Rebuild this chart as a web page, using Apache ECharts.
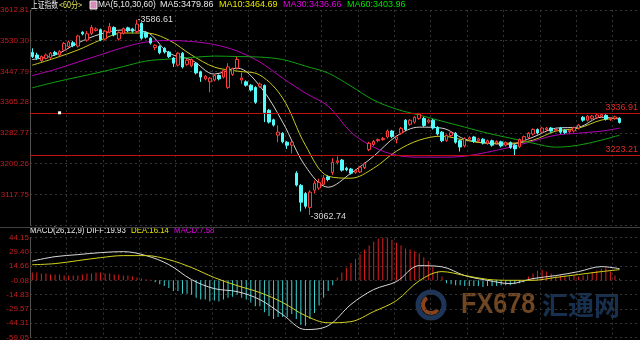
<!DOCTYPE html>
<html><head><meta charset="utf-8">
<script src="https://cdn.jsdelivr.net/npm/echarts@6/dist/echarts.min.js"></script>
<style>html,body{margin:0;padding:0;background:#000}#c{width:640px;height:340px}</style>
</head><body><div id="c"></div><script>
// ---- data: 60-minute candles, [open, close, low, high] ----
const candles = [
[3499,3488,3484,3510],[3492,3484,3479,3498],[3477,3488,3473,3491],[3483,3492,3480,3496],[3485,3497,3482,3500],
[3499,3494,3490,3503],[3492,3502,3489,3505],[3505,3523,3502,3527],[3515,3527,3511,3531],[3525,3517,3513,3530],
[3516,3543,3512,3546],[3553,3549,3545,3556],[3532,3549,3528,3556],[3550,3566,3546,3572],[3558,3562,3555,3566],
[3560,3533,3529,3563],[3535,3556,3531,3559],[3553,3568,3550,3578],[3566,3546,3542,3569],[3535,3552,3531,3555],
[3550,3563,3547,3566],[3565,3557,3553,3568],[3562,3556,3552,3565],[3555,3575,3551,3586.61],[3577,3537,3533,3580],
[3552,3540,3536,3556],[3537,3524,3520,3540],[3512,3518,3505,3521],[3515,3498,3494,3518],[3510,3500,3496,3513],
[3500,3488,3484,3503],[3484,3470,3460,3487],[3465,3497,3461,3500],[3497,3460,3456,3500],[3467,3478,3463,3481],
[3463,3480,3459,3483],[3470,3444,3440,3473],[3447,3433,3420,3450],[3428,3435,3424,3438],[3420,3430,3392,3433],
[3425,3437,3421,3440],[3437,3428,3424,3440],[3433,3450,3429,3453],[3405,3460,3401,3470],[3440,3455,3436,3458],
[3457,3480,3453,3487],[3425,3430,3415,3445],[3420,3411,3407,3424],[3411,3398,3394,3414],[3405,3365,3361,3408],
[3408,3414,3404,3418],[3410,3338,3312,3413],[3344,3312,3308,3347],[3318,3304,3300,3321],[3277,3285,3258,3303],
[3282,3259,3255,3285],[3258,3250,3240,3261],[3250,3258,3228,3262],[3175,3143,3139,3180],[3142,3097,3072,3146],
[3120,3086,3080,3124],[3083,3124,3062.74,3129],[3129,3148,3120,3155],[3135,3150,3130,3160],[3145,3162,3140,3170],
[3165,3158,3153,3169],[3177,3204,3170,3215],[3204,3208,3198,3220],[3210,3183,3179,3213],[3188,3184,3180,3192],
[3186,3175,3171,3189],[3177,3182,3173,3186],[3178,3191,3175,3194],[3190,3200,3186,3204],[3238,3255,3234,3259],
[3252,3260,3248,3264],[3262,3265,3258,3268],[3265,3268,3262,3272],[3272,3288,3268,3292],[3288,3273,3269,3291],
[3265,3272,3255,3276],[3282,3295,3278,3299],[3317,3292,3288,3320],[3306,3317,3302,3320],[3312,3325,3308,3328],
[3322,3333,3318,3336.91],[3322,3303,3299,3326],[3312,3317,3308,3321],[3317,3296,3292,3320],[3298,3280,3276,3301],
[3285,3262,3258,3288],[3263,3276,3259,3279],[3276,3283,3272,3286],[3282,3258,3254,3285],[3262,3245,3233,3265],
[3248,3268,3244,3271],[3266,3270,3262,3274],[3272,3260,3256,3275],[3262,3267,3258,3270],[3266,3256,3252,3269],
[3255,3262,3251,3265],[3262,3250,3246,3265],[3256,3260,3252,3263],[3259,3248,3244,3262],[3250,3257,3246,3260],
[3257,3244,3240,3260],[3250,3240,3223.21,3253],[3246,3265,3242,3268],[3262,3273,3258,3276],[3271,3282,3267,3285],
[3280,3292,3276,3295],[3292,3283,3279,3295],[3285,3296,3281,3299],[3292,3296,3288,3299],[3296,3288,3284,3299],
[3289,3292,3285,3295],[3296,3285,3281,3299],[3290,3284,3280,3293],[3286,3290,3282,3293],[3288,3297,3284,3300],
[3296,3304,3292,3307],[3325,3317,3313,3328],[3317,3328,3313,3331],[3322,3328,3318,3331],[3325,3331,3321,3334],
[3327,3332,3323,3335],[3330,3320,3316,3333],[3319,3322,3315,3325],[3322,3326,3318,3329],[3322,3311,3308,3325]
];
// moving averages read at these bar indices
const sampleIdx = [0,5,10,15,20,25,30,35,40,45,50,55,60,65,70,75,80,85,90,95,100,105,110,115,120,125,129];
const ma5  = [3479.86,3491.9,3524.1,3548.3,3559.1,3553.7,3497.3,3478.5,3440.8,3456.9,3408.6,3311.9,3193.6,3137.2,3174.8,3220.5,3274.2,3298.4,3295.7,3266.2,3255.4,3252.7,3271.5,3295.7,3298.4,3325,3320];
const ma10 = [3464.69,3483.8,3505.3,3532.2,3551,3551,3532.2,3491.9,3459.6,3448.9,3438.1,3376.3,3250,3166.8,3161.4,3188.3,3234,3263.5,3274.2,3263.5,3255.4,3255.4,3263.5,3287.7,3295.7,3317.3,3322.6];
const ma30 = [3436.66,3453.2,3473.1,3492.7,3512.3,3526.8,3530.8,3528.2,3520.1,3502.6,3473.1,3430.1,3389.8,3354.8,3285,3244.7,3223.2,3217.8,3217.8,3220.5,3231.3,3244.7,3260.8,3276.9,3282.3,3287.7,3295.7];
const ma60 = [3403.96,3419.3,3432.8,3446.2,3461,3475.8,3481.1,3485.2,3489.2,3487.9,3486.5,3479.8,3462.3,3443.5,3408.6,3371,3346.8,3330.7,3314.5,3298.4,3282.3,3268.9,3255.4,3244.7,3250,3263.5,3276.9];
// MACD(26,12,9)
const diff = [19.93,24.5,26.6,28.7,29.7,25.6,16.3,0.7,-8.6,-11.7,-20,-35.5,-51,-47,-25,-9.6,-1.3,15.2,14,4.9,0,-3.4,1.8,4.9,9,14.2,12];
const dea  = [16.14,17.3,20.4,23.5,25.6,25.6,21.4,13.2,2.8,-5.5,-12.7,-23,-36.6,-44,-42.8,-32.4,-21,-0.5,9,5,1,0,0,3,6,9,11];
const macd = [
8,8,7,7,6,6,6,5,5,5,
5,6,7,7,8,8,7,7,6,6,5,
5,4,3,2,1,0.5,
-2,-4,-6,-8,-11,-11,-14,-14,-15,-18,-20,-20,-22,-21,-22,-20,-18,-17,-15,-18,
-20,-23,-27,-27,-33,-37,-40,-38,-38,-38,-35,-40,-46,-47,-40,-34,-26,-18,-11,-5,
3,8,13,18,22,27,32,36,40,43,44,44,42,39,36,33,32,30,28,24,20,14,9,4,
-3,-4,-5,-5,-6,-6,-6,-6,-7,-6,-6,-6,-5,-5,-5,-4,-3,-2,
4,7,10,11,9,7,5,5,4,4,5,4,5,6,8,10,12,13,9,5,2
];
const priceTicks = [3035.24,3117.75,3200.26,3282.77,3365.28,3447.79,3530.30,3612.81];
const macdTicks  = [-59.05,-44.31,-29.57,-14.83,-0.08,14.66,29.40,44.15];
const levelLines = [3336.91,3223.21];
const headerTop = [['上证指数','#e8e8e8'],['<60分>','#e8e860'],['MA(5,10,30,60)','#e8e8e8'],['MA5:3479.86','#e8e8e8'],['MA10:3464.69','#e6e600'],['MA30:3436.66','#e000e0'],['MA60:3403.96','#00e000']];
const headerMacd = [['MACD(26,12,9) DIFF:19.93','#e8e8e8'],['DEA:16.14','#e6e600'],['MACD:7.58','#e000e0']];

// ---- build ----
const SLOTS = 134;
const pairs = arr => sampleIdx.map((k, j) => [k, arr[j]]);
let hiIdx = 0, loIdx = 0;
candles.forEach((c, i) => { if (c[3] > candles[hiIdx][3]) hiIdx = i; if (c[2] < candles[loIdx][2]) loIdx = i; });
const RED = '#e02828';
const LBL = {color: '#c81e1e', fontSize: 8, fontFamily: "'Liberation Sans',sans-serif", margin: 1};
const grid = {color: '#333', type: [2, 3], width: 1};
const font = "9px 'Liberation Sans', sans-serif";

const chart = echarts.init(document.getElementById('c'), null, {renderer: 'canvas'});
const xAx = gi => ({gridIndex: gi, type: 'category', max: SLOTS - 1, boundaryGap: true,
  axisLine: {show: false}, axisTick: {show: false}, axisLabel: {show: false},
  splitLine: {show: true, interval: 7, lineStyle: grid}});
const tickAx = (gi, ticks, skipFirst) => ({gridIndex: gi, type: 'value', position: 'left', min: 0, max: ticks.length - 1, interval: 1,
  axisLine: {show: true, lineStyle: {color: '#505050'}}, axisTick: {show: false},
  axisLabel: Object.assign({}, LBL, {formatter: (v) => (skipFirst && v === 0) ? '' : ticks[Math.round(v)].toFixed(2)}),
  splitLine: {show: true, lineStyle: grid}});

const lineS = (name, data, color, xi, yi) => ({name, type: 'line', xAxisIndex: xi, yAxisIndex: yi, data: pairs(data),
  showSymbol: false, smooth: 0.35, lineStyle: {color, width: 1}, silent: true, z: 3});

const gfx = [];
const topX = [31, 59, 98, 160, 219, 283, 347];
const topScale = [0.75, 0.8, 0.93, 1, 1, 1, 1];
headerTop.forEach(([t, c], k) => {
  gfx.push({type: 'text', x: topX[k], y: 5, scaleX: topScale[k],
    style: {text: t, fill: c, font: k < 2 ? "9px 'Noto Sans CJK SC'" : font, verticalAlign: 'middle'}});
});
gfx.push({type: 'rect', shape: {x: 90, y: 1, width: 7, height: 8}, style: {fill: '#d88ab8', stroke: '#eee', lineWidth: 1}});
const macdX = [30, 131, 174];
headerMacd.forEach(([t, c], k) => {
  gfx.push({type: 'text', x: macdX[k], y: 231, scaleX: 0.87, style: {text: t, fill: c, font, verticalAlign: 'middle'}});
});
gfx.push({type: 'line', shape: {x1: 0, y1: 227.5, x2: 640, y2: 227.5}, style: {stroke: '#404040', lineWidth: 1}});
// watermark
gfx.push({type: 'circle', shape: {cx: 431, cy: 305, r: 13}, style: {fill: 'none', stroke: '#1d3558', lineWidth: 5}});
gfx.push({type: 'arc', shape: {cx: 431, cy: 305, r: 8, startAngle: 0.6, endAngle: 4.2}, style: {fill: 'none', stroke: '#8a4318', lineWidth: 4}});
gfx.push({type: 'text', x: 461, y: 305, scaleX: 0.84, style: {text: 'FX678', font: "bold 30px 'Liberation Sans'", verticalAlign: 'middle', fill: '#714622'}});
gfx.push({type: 'text', x: 542, y: 305, style: {text: '汇通网', font: "bold 26px 'Noto Sans CJK SC'", verticalAlign: 'middle', fill: '#17304f'}});

chart.setOption({
  backgroundColor: '#000',
  animation: false,
  grid: [
    {left: 30, right: 0, top: 10, height: 215.2, containLabel: false, outerBoundsMode: 'none'},
    {left: 30, right: 0, top: 237.7, height: 99.6, containLabel: false, outerBoundsMode: 'none'}
  ],
  xAxis: [xAx(0), xAx(1)],
  yAxis: [
    {gridIndex: 0, type: 'value', position: 'left', min: priceTicks[0], max: priceTicks[7], show: false, splitLine: {show: false}},
    tickAx(0, priceTicks, true),
    {gridIndex: 1, type: 'value', position: 'left', min: macdTicks[0], max: macdTicks[7], show: false, splitLine: {show: false}},
    tickAx(1, macdTicks, false)
  ],
  graphic: gfx,
  series: [
    {type: 'candlestick', xAxisIndex: 0, yAxisIndex: 0, data: candles, barWidth: 3, silent: true, z: 4,
      itemStyle: {color: '#000', color0: '#54fcfc', borderColor: '#ff3c3c', borderColor0: '#54fcfc', borderWidth: 1},
      markPoint: {symbol: 'rect', symbolSize: 1, silent: true, itemStyle: {color: 'rgba(0,0,0,0)'},
        label: {show: true, position: 'right', color: '#d8d8d8', fontSize: 9, fontFamily: "'Liberation Sans'", distance: 0,
          formatter: p => '-' + p.value.toFixed(2)},
        data: [
          {coord: [hiIdx, candles[hiIdx][3]], value: candles[hiIdx][3], label: {offset: [0, 0]}},
          {coord: [loIdx, candles[loIdx][2]], value: candles[loIdx][2], label: {offset: [0, 2]}},
          {coord: [6, levelLines[0]], value: levelLines[0], symbol: 'rect', symbolSize: 3, itemStyle: {color: '#fff'}, label: {show: false}}
        ]},
      markLine: {symbol: 'none', silent: true, lineStyle: {color: '#c01010', type: 'solid', width: 1},
        label: {show: true, position: 'insideEndTop', color: RED, fontSize: 9, fontFamily: "'Liberation Sans'", distance: [2, 1],
          formatter: p => p.value.toFixed(2)},
        data: levelLines.map(v => ({yAxis: v}))}
    },
    lineS('MA5', ma5, '#d0d0d0', 0, 0),
    lineS('MA10', ma10, '#c8c81e', 0, 0),
    lineS('MA30', ma30, '#b400b4', 0, 0),
    lineS('MA60', ma60, '#10a010', 0, 0),
    {type: 'bar', xAxisIndex: 1, yAxisIndex: 2, data: macd, barWidth: 1, silent: true,
      itemStyle: {color: p => p.value >= 0 ? '#e01e1e' : '#3cd2d2'}},
    lineS('DIFF', diff, '#d8d8d8', 1, 2),
    lineS('DEA', dea, '#d2d21e', 1, 2)
  ]
});
</script></body></html>
